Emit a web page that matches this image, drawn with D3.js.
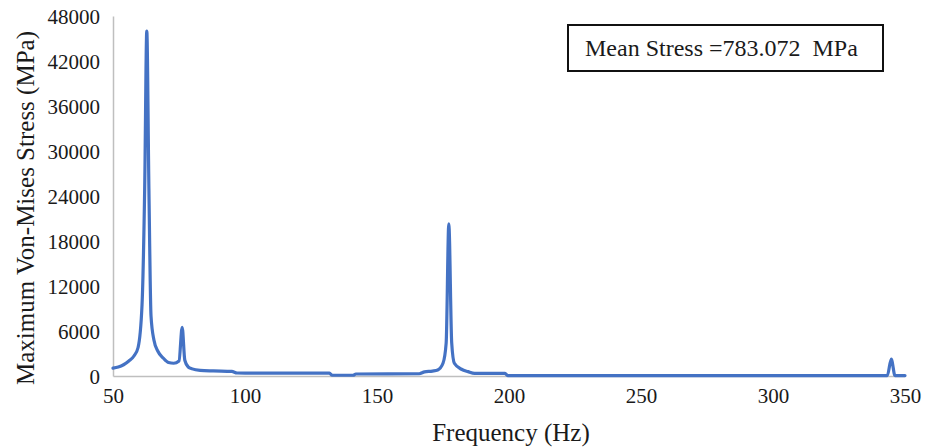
<!DOCTYPE html>
<html>
<head>
<meta charset="utf-8">
<script src="https://cdn.jsdelivr.net/npm/d3@7"></script>
<style>
  html, body { margin: 0; padding: 0; background: #fff; }
  svg { display: block; }
  text { font-family: "Liberation Serif", "Times New Roman", serif; fill: #1a1a1a; }
</style>
</head>
<body>
<svg id="chart" width="936" height="448"></svg>
<script>
// Frequency response: maximum von Mises stress vs excitation frequency
const frequency = [50, 52, 54, 56, 58, 59.5, 61, 62, 62.8, 63.6, 64.4, 65.5, 67, 69, 71, 73, 75, 76.2, 77.2, 78.5, 80, 83, 88, 95, 97, 100, 132, 133, 141, 142, 166, 168, 171, 173, 175, 176.2, 177.2, 178.3, 179.3, 182, 184.5, 187, 198.5, 199.5, 343.3, 344.8, 346.2, 350];
const stress    = [1050, 1200, 1500, 2000, 2700, 3800, 9500, 25000, 46000, 25000, 8000, 4800, 3300, 2400, 1800, 1700, 2000, 6500, 2100, 1200, 950, 750, 680, 620, 400, 380, 380, 100, 100, 270, 300, 550, 650, 800, 1700, 4400, 20300, 4400, 1700, 900, 580, 350, 350, 60, 60, 2250, 60, 60];

const xTicks = [50, 100, 150, 200, 250, 300, 350];
const yTicks = [0, 6000, 12000, 18000, 24000, 30000, 36000, 42000, 48000];

const xTitle = "Frequency (Hz)";
const yTitle = "Maximum Von-Mises Stress (MPa)";
const note = "Mean Stress =783.072  MPa";

const svg = d3.select("#chart");
const plotLeft = 113, plotRight = 905, plotTop = 16, plotBottom = 376;

const x = d3.scaleLinear().domain([50, 350]).range([plotLeft, plotRight]);
const y = d3.scaleLinear().domain([0, 48000]).range([plotBottom, plotTop]);

// axes
const xAxis = svg.append("g")
  .attr("transform", `translate(0,${plotBottom})`)
  .call(d3.axisBottom(x).tickValues(xTicks).tickSize(0).tickPadding(12).tickFormat(d3.format("d")));
const yAxis = svg.append("g")
  .attr("transform", `translate(${plotLeft},0)`)
  .call(d3.axisLeft(y).tickValues(yTicks).tickSize(0).tickPadding(13).tickFormat(d3.format("d")));

[xAxis, yAxis].forEach(g => {
  g.select(".domain").attr("stroke", "#bfbfbf").attr("stroke-width", 1.5);
  g.selectAll("text").style("font-size", "21px").attr("fill", "#1a1a1a");
});
yAxis.selectAll("text").attr("dy", "0.34em");

// series
const pts = frequency.map((f, i) => [f, stress[i]]);
svg.append("path")
  .datum(pts)
  .attr("fill", "none")
  .attr("stroke", "#4472C4")
  .attr("stroke-width", 3.2)
  .attr("stroke-linejoin", "round")
  .attr("stroke-linecap", "round")
  .attr("d", d3.line().x(d => x(d[0])).y(d => y(d[1])).curve(d3.curveMonotoneX));

// axis titles
svg.append("text")
  .attr("x", (plotLeft + plotRight) / 2 + 2)
  .attr("y", 441)
  .attr("text-anchor", "middle")
  .style("font-size", "25px")
  .text(xTitle);

svg.append("text")
  .attr("transform", `translate(34,${(plotTop + plotBottom) / 2 + 12}) rotate(-90)`)
  .attr("text-anchor", "middle")
  .style("font-size", "25px")
  .text(yTitle);

// annotation box
svg.append("rect")
  .attr("x", 568).attr("y", 25)
  .attr("width", 315).attr("height", 46)
  .attr("fill", "#fff")
  .attr("stroke", "#111")
  .attr("stroke-width", 2);
svg.append("text")
  .attr("x", 585).attr("y", 56)
  .style("font-size", "24px")
  .style("white-space", "pre")
  .attr("xml:space", "preserve")
  .text(note);
</script>
</body>
</html>
